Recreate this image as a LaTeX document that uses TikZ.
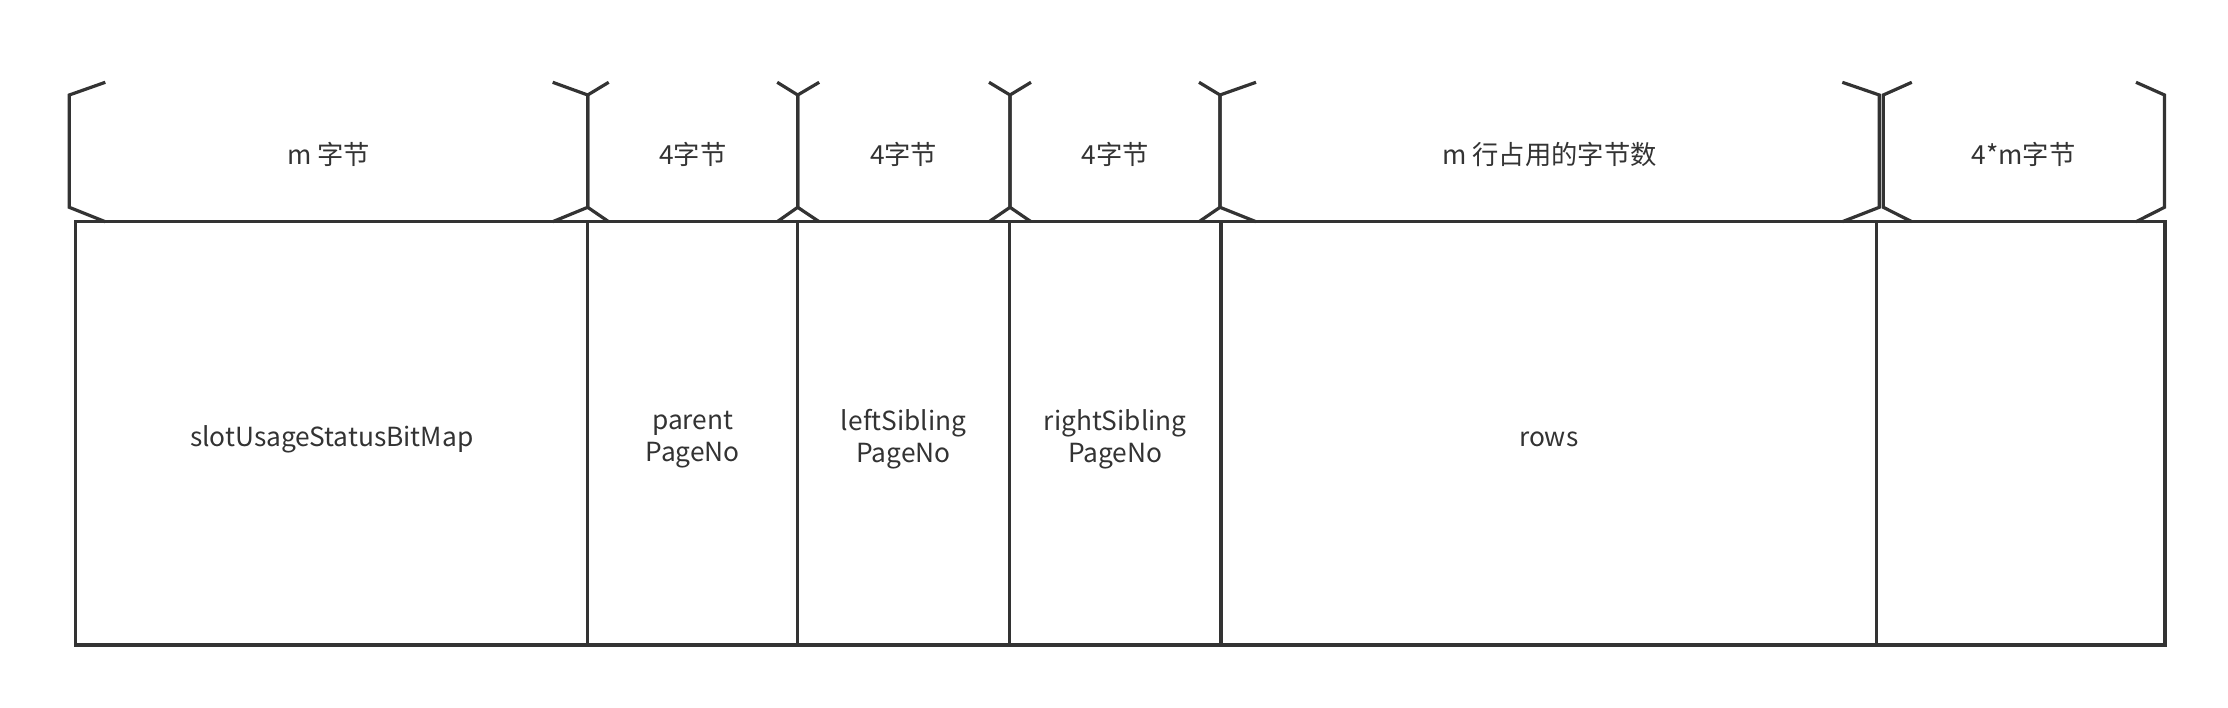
\documentclass[tikz,border=0pt]{standalone}
\usepackage{fontspec}
\setmainfont{Noto Sans CJK SC}
\definecolor{ink}{HTML}{333333}
\begin{document}
\begin{tikzpicture}[x=1pt,y=-1pt,
  cell/.style={draw=ink, line width=3.2pt, inner sep=0pt, minimum height=423.3pt},
  lbl/.style={inner sep=0pt, text=ink, align=center, font=\fontsize{26.3}{32}\selectfont},
  br/.style={draw=ink, line width=3.2pt, line join=miter}]
\useasboundingbox (0,0) rectangle (2228,708);
% boxes
\node[cell, minimum width=512pt] (b1) at (331.7,433.35) {};
\node[cell, minimum width=210pt] (b2) at (692.7,433.35) {};
\node[cell, minimum width=211.8pt] (b3) at (903.6,433.35) {};
\node[cell, minimum width=211.5pt] (b4) at (1115.25,433.35) {};
\node[cell, minimum width=655.5pt] (b5) at (1548.75,433.35) {};
\node[cell, minimum width=288.5pt] (b6) at (2020.75,433.35) {};
% box texts
\node[lbl] (c1) at ([yshift=-6pt]b1.center) {slotUsageStatusBitMap};
\node[lbl] (c2) at ([yshift=-6pt]b2.center) {parent\\PageNo};
\node[lbl] (c3) at ([yshift=-6pt]b3.center) {leftSibling\\PageNo};
\node[lbl] (c4) at ([yshift=-6pt]b4.center) {rightSibling\\PageNo};
\node[lbl] (c5) at ([yshift=-6pt]b5.center) {rows};
% braces: top tip y=82.3, vertical 95..207, bottom tip 221.7
\newcommand{\lbr}[2]{\draw[br] ({#1+#2},82.3) -- (#1,95) -- (#1,207.3) -- ({#1+#2},221.7);}
\newcommand{\rbr}[2]{\draw[br] ({#1-#2},82.3) -- (#1,95) -- (#1,207.3) -- ({#1-#2},221.7);}
\lbr{69.3}{36}\rbr{587.7}{35}
\lbr{587.7}{21}\rbr{797.7}{20.5}
\lbr{797.7}{21.5}\rbr{1010}{21}
\lbr{1010}{21}\rbr{1220}{21}
\lbr{1220}{36}\rbr{1879.3}{37}
\lbr{1883.3}{28.5}\rbr{2164.5}{28.5}
% brace labels
\node[lbl] (t1) at (328.5,154) {m 字节};
\node[lbl] (t2) at (692.7,154) {4字节};
\node[lbl] (t3) at (903.6,154) {4字节};
\node[lbl] (t4) at (1115,154) {4字节};
\node[lbl] (t5) at (1549.5,154) {m 行占用的字节数};
\node[lbl] (t6) at (2023.5,154) {4*m字节};
\end{tikzpicture}
\end{document}
